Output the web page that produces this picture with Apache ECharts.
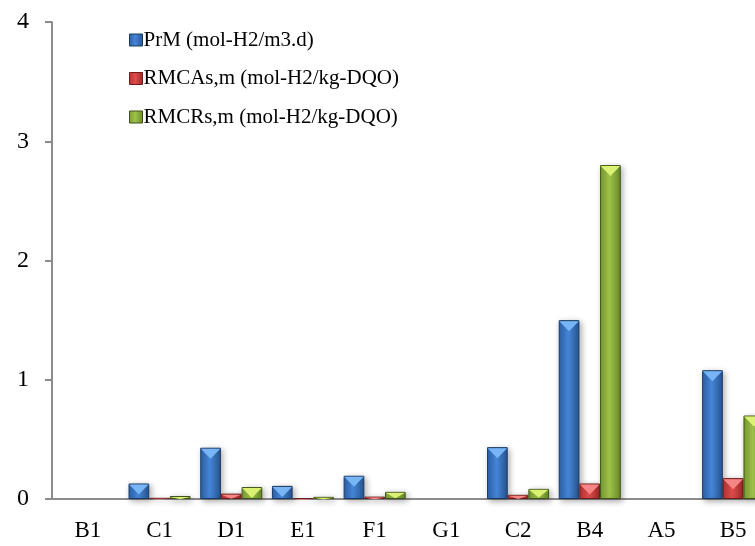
<!DOCTYPE html>
<html>
<head>
<meta charset="utf-8">
<script src="https://cdn.jsdelivr.net/npm/echarts@6/dist/echarts.min.js"></script>
<style>
html,body{margin:0;padding:0;background:#fff;}
#chart{width:755px;height:546px;}
</style>
</head>
<body>
<div id="chart"></div>
<script>
var categories = ['B1', 'C1', 'D1', 'E1', 'F1', 'G1', 'C2', 'B4', 'A5', 'B5'];
var seriesNames = ['PrM (mol-H2/m3.d)', 'RMCAs,m (mol-H2/kg-DQO)', 'RMCRs,m (mol-H2/kg-DQO)'];
var prm   = [0, 0.13, 0.43, 0.11, 0.195, 0, 0.435, 1.50, 0, 1.08];
var rmcas = [0, 0.01, 0.045, 0.008, 0.02, 0, 0.035, 0.13, 0, 0.175];
var rmcrs = [0, 0.025, 0.10, 0.018, 0.06, 0, 0.085, 2.80, 0, 0.70];
var yTicks = [0, 1, 2, 3, 4];

var palettes = [
  {l: '#2d62aa', m: '#4586d8', r: '#27548f', border: '#1b3a63', tri: '#7ab8f8'},
  {l: '#b93232', m: '#e04c4c', r: '#9e2828', border: '#6e1c1c', tri: '#f88a8a'},
  {l: '#7b9e30', m: '#9fc24b', r: '#6a8a28', border: '#3f5318', tri: '#def476'}
];
var values = [prm, rmcas, rmcrs];
var FONT = 'Liberation Serif';

function grad(p) {
  return new echarts.graphic.LinearGradient(0, 0, 1, 0, [
    {offset: 0, color: p.l}, {offset: 0.45, color: p.m}, {offset: 1, color: p.r}
  ]);
}

var series = [];
values.forEach(function (arr, i) {
  var p = palettes[i];
  series.push({
    name: seriesNames[i],
    type: 'bar',
    barGap: '0%',
    barCategoryGap: '13.5%',
    data: arr.map(function (v) { return v === 0 ? '-' : v; }),
    itemStyle: {
      color: grad(p),
      borderColor: p.border,
      borderWidth: 1,
      shadowBlur: 6,
      shadowColor: 'rgba(0,0,0,0.32)',
      shadowOffsetX: 2,
      shadowOffsetY: 2
    },
    z: 3
  });
});
values.forEach(function (arr, i) {
  var p = palettes[i];
  series.push({
    name: 'tri' + i,
    type: 'pictorialBar',
    barGap: '0%',
    barCategoryGap: '13.5%',
    symbol: 'path://M0,0 L20,0 L10,9 Z',
    symbolPosition: 'end',
    symbolOffset: [0, 1],
    data: arr.map(function (v) {
      if (v === 0) return '-';
      return {value: v, symbolSize: ['94%', v >= 0.1 ? 10 : '75%']};
    }),
    itemStyle: {color: p.tri, opacity: 0.95},
    silent: true,
    z: 4
  });
});

var chart = echarts.init(document.getElementById('chart'), null, {renderer: 'canvas'});
chart.setOption({
  animation: false,
  backgroundColor: '#ffffff',
  textStyle: {fontFamily: FONT},
  grid: {left: 52, top: 22, width: 717, height: 477, containLabel: false, outerBoundsMode: 'none'},
  legend: {
    data: seriesNames.map(function (n, i) {
      return {name: n, itemStyle: {color: grad(palettes[i]), borderColor: palettes[i].border, borderWidth: 1}};
    }),
    orient: 'vertical',
    left: 129,
    top: 29.5,
    padding: 0,
    itemWidth: 13,
    itemHeight: 12,
    itemGap: 17.5,
    icon: 'rect',
    textStyle: {fontFamily: FONT, fontSize: 21, color: '#000', lineHeight: 21, padding: [0, 0, 0, -4]}
  },
  xAxis: {
    type: 'category',
    data: categories,
    axisLine: {lineStyle: {color: '#8c8c8c', width: 2}},
    axisTick: {show: false},
    axisLabel: {fontFamily: FONT, fontSize: 23, color: '#000', margin: 20},
    splitLine: {show: false}
  },
  yAxis: {
    type: 'value',
    min: yTicks[0],
    max: yTicks[yTicks.length - 1],
    interval: 1,
    axisLine: {show: true, lineStyle: {color: '#8c8c8c', width: 2}},
    axisTick: {show: true, length: 7, lineStyle: {color: '#8c8c8c', width: 2}},
    axisLabel: {fontFamily: FONT, fontSize: 24, color: '#000', margin: 23},
    splitLine: {show: false}
  },
  series: series
});
</script>
</body>
</html>
